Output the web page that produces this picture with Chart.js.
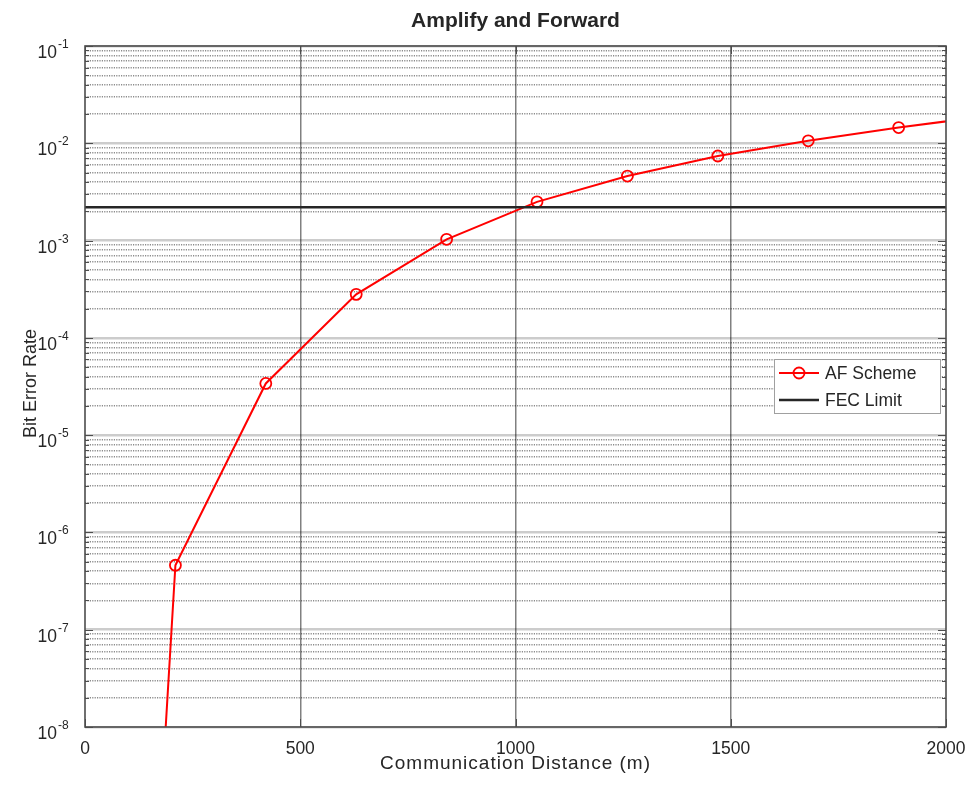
<!DOCTYPE html>
<html lang="en">
  <head>
    <meta charset="UTF-8" />
    <title>Amplify and Forward</title>
    <script src="https://cdn.jsdelivr.net/npm/chart.js"></script>
    <style>
      html, body { margin: 0; padding: 0; background: #fff; }
    </style>
  </head>
  <body>
    <canvas id="ber-chart" width="969" height="785"></canvas>

    <script>
      // values
      const distances = [0, 210, 420, 630, 840, 1050, 1260, 1470, 1680, 1890, 2100];
      const afBer = [1.5e-22, 4.6e-7, 3.4e-5, 2.8e-4, 1.03e-3, 2.5e-3, 4.6e-3, 7.4e-3, 1.06e-2, 1.45e-2, 1.92e-2];
      const fecDistances = [0, 2000];
      const fecBer = [2.2e-3, 2.2e-3];

      // axes
      const xTicks = [0, 500, 1000, 1500, 2000];
      const yExponents = [-8, -7, -6, -5, -4, -3, -2, -1];
      const yMantissas = [1, 2, 3, 4, 5, 6, 7, 8, 9];

      const FONT = '"Liberation Sans", Arial, sans-serif';
      const TEXT = "#262626";

      const isDecade = (v) => Math.abs(Math.log10(v) - Math.round(Math.log10(v))) < 1e-9;

      //all the log ticks, 1..9 per decade, up to 10^-1
      const yTickValues = [];
      yExponents.forEach((e) => {
        yMantissas.forEach((m) => {
          const v = m * Math.pow(10, e);
          if (v <= 0.1 * 1.0000001) yTickValues.push(v);
        });
      });

      //matlab style frame, tick labels, titles and legend
      const matlabFrame = {
        id: "matlabFrame",
        afterDraw(chart) {
          const { ctx, chartArea: a, scales } = chart;
          const xs = scales.x;
          const ys = scales.y;
          ctx.save();

          //inward ticks on the box
          ctx.strokeStyle = "#4d4d4d";
          ctx.lineWidth = 1;
          yTickValues.forEach((v) => {
            const py = Math.round(ys.getPixelForValue(v)) + 0.5;
            const len = isDecade(v) ? 8 : 4;
            ctx.beginPath();
            ctx.moveTo(a.left, py);
            ctx.lineTo(a.left + len, py);
            ctx.moveTo(a.right, py);
            ctx.lineTo(a.right - len, py);
            ctx.stroke();
          });
          xTicks.forEach((v) => {
            const px = Math.round(xs.getPixelForValue(v)) + 0.5;
            ctx.beginPath();
            ctx.moveTo(px, a.bottom);
            ctx.lineTo(px, a.bottom - 8);
            ctx.moveTo(px, a.top);
            ctx.lineTo(px, a.top + 8);
            ctx.stroke();
          });

          //box
          ctx.lineWidth = 1.6;
          ctx.strokeStyle = "#4d4d4d";
          ctx.strokeRect(a.left, a.top, a.right - a.left, a.bottom - a.top);

          //y tick labels 10^n
          ctx.fillStyle = TEXT;
          yExponents.forEach((e) => {
            const py = ys.getPixelForValue(Math.pow(10, e));
            ctx.font = "17.5px " + FONT;
            ctx.textAlign = "right";
            ctx.textBaseline = "alphabetic";
            ctx.fillText("10", a.left - 28, py + 12);
            ctx.font = "12px " + FONT;
            ctx.textAlign = "left";
            ctx.fillText("-" + Math.abs(e), a.left - 27, py + 2);
          });

          const cx = (a.left + a.right) / 2;

          //title
          ctx.font = "bold 21px " + FONT;
          ctx.textAlign = "center";
          ctx.fillText("Amplify and Forward", cx, 27);

          //x label
          ctx.font = "19px " + FONT;
          ctx.letterSpacing = "1px";
          ctx.fillText("Communication Distance (m)", cx, 769);
          ctx.letterSpacing = "0px";

          //y label
          ctx.font = "18px " + FONT;
          ctx.save();
          ctx.translate(36, (a.top + a.bottom) / 2 - 3);
          ctx.rotate(-Math.PI / 2);
          ctx.fillText("Bit Error Rate", 0, 0);
          ctx.restore();

          //legend
          const lx = a.right - 172;
          const ly = 359;
          ctx.fillStyle = "#fff";
          ctx.fillRect(lx, ly, 166, 54);
          ctx.strokeStyle = "#a0a0a0";
          ctx.lineWidth = 1;
          ctx.strokeRect(lx + 0.5, ly + 0.5, 166, 54);

          ctx.strokeStyle = "#ff0000";
          ctx.lineWidth = 2;
          ctx.beginPath();
          ctx.moveTo(lx + 5, ly + 14);
          ctx.lineTo(lx + 45, ly + 14);
          ctx.stroke();
          ctx.lineWidth = 1.8;
          ctx.beginPath();
          ctx.arc(lx + 25, ly + 14, 5.5, 0, Math.PI * 2);
          ctx.stroke();

          ctx.strokeStyle = "#262626";
          ctx.lineWidth = 2.5;
          ctx.beginPath();
          ctx.moveTo(lx + 5, ly + 41);
          ctx.lineTo(lx + 45, ly + 41);
          ctx.stroke();

          ctx.fillStyle = TEXT;
          ctx.font = "17.5px " + FONT;
          ctx.textAlign = "left";
          ctx.textBaseline = "middle";
          ctx.fillText("AF Scheme", lx + 51, ly + 15);
          ctx.fillText("FEC Limit", lx + 51, ly + 42);

          ctx.restore();
        },
      };

      const ctx = document.getElementById("ber-chart").getContext("2d");
      const berChart = new Chart(ctx, {
        type: "line",
        data: {
          datasets: [
            {
              label: "AF Scheme",
              data: distances.map((d, i) => ({ x: d, y: afBer[i] })),
              borderColor: "#ff0000",
              borderWidth: 2,
              pointRadius: 5.5,
              pointBorderWidth: 1.8,
              pointBorderColor: "#ff0000",
              pointBackgroundColor: "rgba(0,0,0,0)",
              tension: 0,
              order: 1,
            },
            {
              label: "FEC Limit",
              data: fecDistances.map((d, i) => ({ x: d, y: fecBer[i] })),
              borderColor: "#262626",
              borderWidth: 2.5,
              pointRadius: 0,
              order: 0,
            },
          ],
        },
        options: {
          responsive: false,
          animation: false,
          layout: { padding: { top: 46, right: 23, left: 0, bottom: 0 } },
          plugins: {
            legend: { display: false },
            title: { display: false },
            tooltip: { enabled: false },
          },
          scales: {
            x: {
              type: "linear",
              min: 0,
              max: 2000,
              afterBuildTicks: (scale) => {
                scale.ticks = xTicks.map((v) => ({ value: v }));
              },
              afterFit: (scale) => {
                scale.height = 58;
                scale.paddingLeft = 0;
                scale.paddingRight = 0;
              },
              ticks: {
                color: TEXT,
                font: { family: FONT, size: 17.5 },
                padding: 12,
                maxRotation: 0,
                callback: (v) => String(v),
              },
              grid: {
                drawTicks: false,
                color: (c) => (c.tick && (c.tick.value === 0 || c.tick.value === 2000) ? "rgba(0,0,0,0)" : "#808080"),
                lineWidth: 1.5,
              },
              border: { display: false },
            },
            y: {
              type: "logarithmic",
              min: 1e-8,
              max: 1e-1,
              afterBuildTicks: (scale) => {
                scale.ticks = yTickValues.map((v) => ({ value: v }));
              },
              afterFit: (scale) => {
                scale.width = 85;
              },
              ticks: { display: false },
              grid: {
                drawTicks: false,
                color: (c) => {
                  if (!c.tick) return "rgba(0,0,0,0)";
                  return isDecade(c.tick.value) ? "rgba(0,0,0,0.2)" : "rgba(0,0,0,0.45)";
                },
                lineWidth: (c) => (c.tick && isDecade(c.tick.value) ? 2.5 : 1.4),
              },
              border: {
                display: false,
                dash: (c) => (c.tick && !isDecade(c.tick.value) ? [1.2, 1.2] : []),
              },
            },
          },
        },
        plugins: [matlabFrame],
      });
    </script>
  </body>
</html>
